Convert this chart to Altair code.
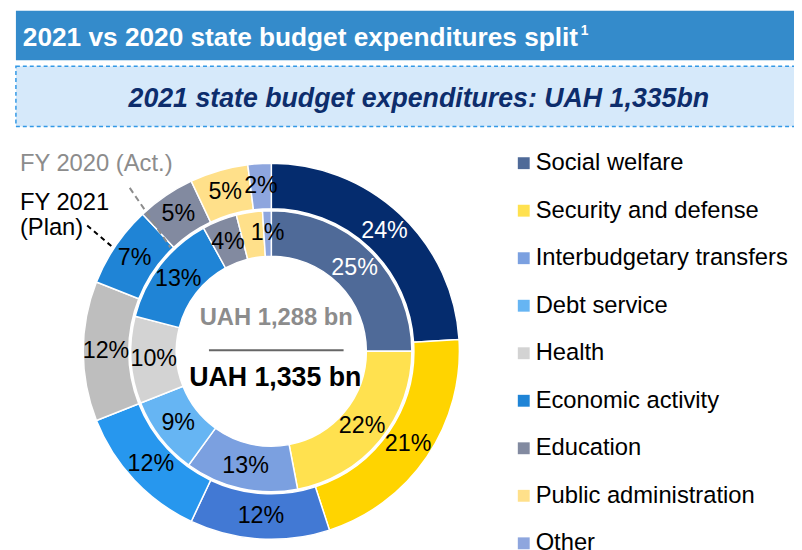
import altair as alt
import pandas as pd

# ---------------- data ----------------
categories = [
    "Social welfare",
    "Security and defense",
    "Interbudgetary transfers",
    "Debt service",
    "Health",
    "Economic activity",
    "Education",
    "Public administration",
    "Other",
]
share_2021 = [24, 21, 12, 12, 12, 7, 5, 5, 2]          # outer ring (FY 2021 Plan)
share_2020 = [25, 22, 13, 9, 10, 13, 4, 3, 1]          # inner ring (FY 2020 Act.)
labels_2021 = ["24%", "21%", "12%", "12%", "12%", "7%", "5%", "5%", "2%"]
labels_2020 = ["25%", "22%", "13%", "9%", "10%", "13%", "4%", "", "1%"]
total_2020 = "UAH 1,288 bn"
total_2021 = "UAH 1,335 bn"
title_text = "2021 vs 2020 state budget expenditures split"
subtitle_text = "2021 state budget expenditures: UAH 1,335bn"

# ---------------- styles ----------------
colors_2020 = ["#4F6A98", "#FFE14F", "#7BA0E0", "#66B5F3", "#D3D3D3",
               "#1F84D6", "#828AA0", "#FFE08A", "#8EA6DE"]
colors_2021 = ["#052C6E", "#FFD400", "#4279D4", "#2797EE", "#BEBEBE",
               "#1F84D6", "#828AA0", "#FFE08A", "#8EA6DE"]
FONT = "Liberation Sans"
CX, CY = 266, 344

df21 = pd.DataFrame({"category": categories, "share": share_2021,
                     "label": labels_2021, "idx": range(len(categories))})
df20 = pd.DataFrame({"category": categories, "share": share_2020,
                     "label": labels_2020, "idx": range(len(categories))})
one = pd.DataFrame({"k": [0]})

theta = alt.Theta("share:Q", stack=True)
order = alt.Order("idx:Q", sort="ascending")

outer = alt.Chart(df21).mark_arc(stroke="white", strokeWidth=1.5).encode(
    theta=theta, order=order,
    color=alt.Color("category:N", sort=categories,
                    scale=alt.Scale(domain=categories, range=colors_2021),
                    legend=None),
    radius=alt.value(190), radius2=alt.value(144),
    x=alt.value(CX), y=alt.value(CY),
)

inner = alt.Chart(df20).mark_arc(stroke="white", strokeWidth=1.5).encode(
    theta=theta, order=order,
    color=alt.Color("category:N", sort=categories,
                    scale=alt.Scale(domain=categories, range=colors_2020),
                    legend=alt.Legend(
                        title=None, orient="none", legendX=509, legendY=142,
                        symbolType="square", symbolSize=144,
                        symbolStrokeWidth=0,
                        labelFont=FONT, labelFontSize=24, labelColor="#000000",
                        labelOffset=0, rowPadding=24, labelLimit=400,
                    )),
    radius=alt.value(142), radius2=alt.value(96),
    x=alt.value(CX), y=alt.value(CY),
)

label_color = alt.condition(alt.datum.category == "Social welfare",
                            alt.value("#FFFFFF"), alt.value("#000000"))

outer_lbl = alt.Chart(df21).mark_text(font=FONT, fontSize=23.5, radius=167).encode(
    theta=theta, order=order, text="label:N", color=label_color,
    x=alt.value(CX), y=alt.value(CY),
)
inner_lbl = alt.Chart(df20).mark_text(font=FONT, fontSize=23.5, radius=119).encode(
    theta=theta, order=order, text="label:N", color=label_color,
    x=alt.value(CX), y=alt.value(CY),
)

# ---------------- header ----------------
title_bar = alt.Chart(one).mark_rect(color="#348BCB").encode(
    x=alt.value(8), x2=alt.value(800), y=alt.value(0), y2=alt.value(50))
title = alt.Chart(one).mark_text(
    text=title_text, font=FONT, fontSize=26.5, fontWeight="bold",
    color="#FFFFFF", align="left", baseline="middle").encode(
    x=alt.value(15), y=alt.value(28))
title_sup = alt.Chart(one).mark_text(
    text="1", font=FONT, fontSize=14, fontWeight="bold",
    color="#FFFFFF", align="left", baseline="middle").encode(
    x=alt.value(578.5), y=alt.value(21))

sub_box = alt.Chart(one).mark_rect(
    fill="#D6E9FA", stroke="#3399E6", strokeWidth=1.5, strokeDash=[4, 3]).encode(
    x=alt.value(8), x2=alt.value(802), y=alt.value(56), y2=alt.value(117))
subtitle = alt.Chart(one).mark_text(
    text=subtitle_text, font=FONT, fontSize=27, fontWeight="bold",
    fontStyle="italic", color="#0D2D6C", align="center", baseline="middle").encode(
    x=alt.value(415), y=alt.value(89))

# ---------------- center / annotations ----------------
c20 = alt.Chart(one).mark_text(
    text=total_2020, font=FONT, fontSize=24, fontWeight="bold",
    color="#8C8C8C", align="center", baseline="middle").encode(
    x=alt.value(271), y=alt.value(310))
c_rule = alt.Chart(one).mark_rule(color="#666666", strokeWidth=2).encode(
    x=alt.value(203), x2=alt.value(339), y=alt.value(343))
c21 = alt.Chart(one).mark_text(
    text=total_2021, font=FONT, fontSize=27, fontWeight="bold",
    color="#000000", align="center", baseline="middle").encode(
    x=alt.value(270), y=alt.value(371))

fy20 = alt.Chart(one).mark_text(
    text="FY 2020 (Act.)", font=FONT, fontSize=24, color="#8C8C8C",
    align="left", baseline="middle").encode(x=alt.value(12), y=alt.value(155))
fy21a = alt.Chart(one).mark_text(
    text="FY 2021", font=FONT, fontSize=24, color="#000000",
    align="left", baseline="middle").encode(x=alt.value(12), y=alt.value(194))
fy21b = alt.Chart(one).mark_text(
    text="(Plan)", font=FONT, fontSize=24, color="#000000",
    align="left", baseline="middle").encode(x=alt.value(12), y=alt.value(220))
line20 = alt.Chart(one).mark_rule(color="#8C8C8C", strokeWidth=2, strokeDash=[6, 4]).encode(
    x=alt.value(123), y=alt.value(179), x2=alt.value(164), y2=alt.value(239))
line21 = alt.Chart(one).mark_rule(color="#000000", strokeWidth=2, strokeDash=[5, 4]).encode(
    x=alt.value(80), y=alt.value(217), x2=alt.value(107), y2=alt.value(240))

chart = alt.layer(
    title_bar, title, title_sup, sub_box, subtitle,
    outer, inner, outer_lbl, inner_lbl,
    c20, c_rule, c21, fy20, fy21a, fy21b, line20, line21,
).resolve_scale(color="independent").properties(
    width=794, height=542, padding=0,
    autosize=alt.AutoSizeParams(type="none"),
).configure_view(strokeWidth=0)

chart.save("out.html", embed_options={"renderer": "svg", "actions": False})
